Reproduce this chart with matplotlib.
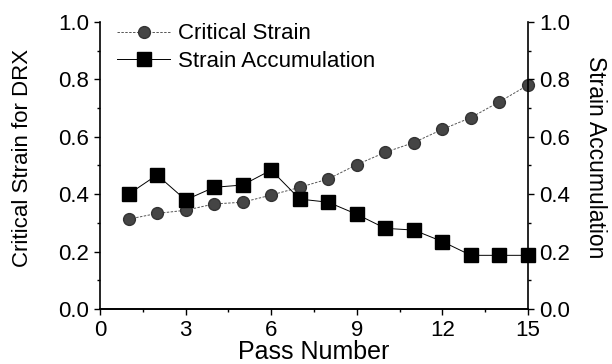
import numpy as np
import matplotlib
matplotlib.use('Agg')
import matplotlib.pyplot as plt
from matplotlib.ticker import MultipleLocator, FormatStrFormatter

plt.rcParams['font.family'] = ['Liberation Sans', 'DejaVu Sans']

passes = [1, 2, 3, 4, 5, 6, 7, 8, 9, 10, 11, 12, 13, 14, 15]
critical_strain = [0.313, 0.333, 0.344, 0.366, 0.372, 0.397, 0.424, 0.453,
                   0.503, 0.546, 0.580, 0.626, 0.667, 0.722, 0.780]
strain_accum = [0.400, 0.467, 0.380, 0.424, 0.432, 0.484, 0.383, 0.372,
                0.330, 0.281, 0.275, 0.235, 0.187, 0.187, 0.187]

fig = plt.figure(figsize=(6.12, 3.64), dpi=100)
ax1 = fig.add_axes([0.1634, 0.1511, 0.6993, 0.7885])
ax2 = ax1.twinx()

l1, = ax1.plot(passes, critical_strain, linestyle=(0, (2.5, 1.5)), color='#555555', lw=0.7,
               marker='o', markersize=8.5, markerfacecolor='#454545', markeredgecolor='#333333',
               label='Critical Strain', clip_on=False, zorder=3)
l2, = ax1.plot(passes, strain_accum, linestyle='-', color='black', lw=0.7,
               marker='s', markersize=9.5, markerfacecolor='black', markeredgecolor='black',
               label='Strain Accumulation', clip_on=False, zorder=3)

for ax in (ax1, ax2):
    ax.set_ylim(0, 1.0)
    ax.yaxis.set_major_locator(MultipleLocator(0.2))
    ax.yaxis.set_minor_locator(MultipleLocator(0.1))
    ax.yaxis.set_major_formatter(FormatStrFormatter('%.1f'))
    ax.spines['top'].set_visible(False)
    ax.tick_params(which='major', direction='out', length=4, width=1, labelsize=16, pad=4)
    ax.tick_params(which='minor', direction='out', length=2, width=1)
    for s in ax.spines.values():
        s.set_linewidth(1.2)

ax1.spines['right'].set_visible(False)
ax2.spines['left'].set_visible(False)
ax1.set_xlim(0, 15)
ax1.xaxis.set_major_locator(MultipleLocator(3))
ax1.xaxis.set_minor_locator(MultipleLocator(1.5))

ax1.set_xlabel('Pass Number', fontsize=18, labelpad=-1)
ax1.set_ylabel('Critical Strain for DRX', fontsize=16, labelpad=18)
ax2.set_ylabel('Strain Accumulation', fontsize=16.5, rotation=270, va='bottom', labelpad=10)
ax1.yaxis.label.set_y(0.525)
ax2.yaxis.label.set_y(0.53)

ax1.legend(handles=[l1, l2], loc='upper left', bbox_to_anchor=(0.04, 0.995), frameon=False,
           fontsize=16, handlelength=2.4, handletextpad=0.35, labelspacing=0.3,
           borderpad=0, borderaxespad=0)

fig.savefig('out.png', dpi=100)
